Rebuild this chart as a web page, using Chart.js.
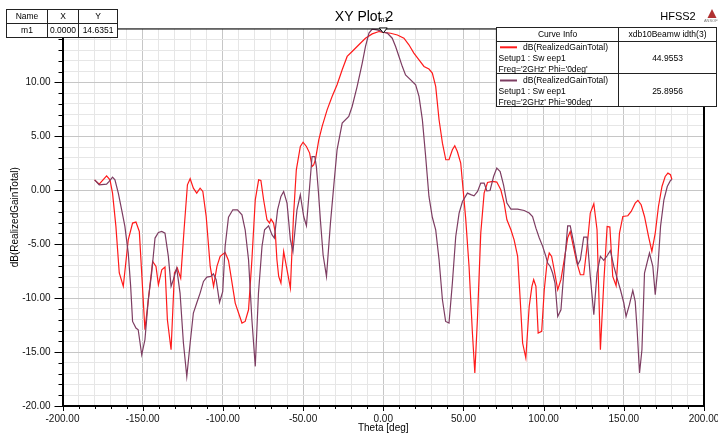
<!DOCTYPE html>
<html>
<head>
<meta charset="utf-8">
<script src="https://cdn.jsdelivr.net/npm/chart.js@4.4.1/dist/chart.umd.min.js"></script>
<style>
  html, body { margin: 0; padding: 0; background: #ffffff; }
  #wrap { width: 718px; height: 435px; position: relative; }
</style>
</head>
<body>
<div id="wrap"><canvas id="c" width="718" height="435"></canvas></div>
<script>
// ---- data ----
const thetaPhi0 = [-180,-177.1,-172.5,-170.4,-168.8,-166.7,-164.6,-162.1,-159.0,-156.3,-154.2,-152.1,-148.6,-146.5,-143.8,-141.7,-140.2,-138.1,-136.1,-134.6,-132.3,-130.2,-128.4,-126.3,-124.2,-122.1,-120.4,-118.4,-116.3,-114.2,-112.5,-110.4,-107.9,-105.8,-103.7,-101.7,-98.6,-96.5,-92.3,-88.1,-86.1,-84.0,-81.9,-79.8,-77.7,-76.3,-74.6,-72.5,-70.9,-70.0,-68.4,-67.3,-66.3,-65.2,-63.8,-62.1,-60.0,-57.9,-56.0,-54.2,-51.7,-50.0,-47.9,-45.9,-44.4,-43.4,-42.3,-40.2,-38.1,-35.0,-31.9,-28.8,-25.6,-22.5,-19.4,-15.2,-11.1,-6.9,-2.7,0,4.6,8.8,12.9,16.0,19.1,22.3,25.4,28.5,30.6,32.7,34.8,36.9,39.0,41.0,43.1,44.6,46.2,48.3,50.0,51.4,53.5,55.6,57.1,58.8,60.8,62.9,65.0,68.1,70.8,73.3,75.4,77.1,79.6,81.6,83.8,85.4,86.9,88.9,91.0,92.7,93.8,95.2,96.6,98.8,100.4,102.1,103.5,105.0,106.6,108.8,110.8,112.9,115.0,116.6,118.1,120.8,122.9,125.0,127.1,129.1,131.3,133.3,135.4,137.5,139.6,141.3,143.1,145.2,147.3,149.4,152.5,154.6,157.1,158.8,160.8,162.9,165.4,167.5,169.6,171.6,173.8,175.8,177.5,179.1,180];
const gainPhi0 = [0.97,0.57,1.34,0.97,-0.26,-3.35,-7.67,-8.9,-4.59,-3.04,-2.95,-3.82,-12.93,-10.15,-6.6,-7.06,-8.76,-7.37,-7.12,-12.0,-14.78,-7.67,-7.21,-8.14,-3.66,0.51,1.07,0.2,-0.26,0.2,-0.11,-2.43,-7.06,-8.91,-7.06,-6.13,-5.76,-6.5,-10.46,-12.31,-12.16,-11.08,-6.44,-0.88,0.97,0.91,-0.88,-2.73,-3.04,-2.67,-3.04,-3.97,-6.44,-7.99,-8.6,-5.67,-7.37,-9.07,-2.5,1.9,4.06,4.46,4.06,3.45,2.2,2.36,2.83,4.68,5.92,7.46,8.7,9.78,11.17,12.41,12.87,13.49,14.1,14.5,14.72,14.64,14.56,14.4,14.1,13.49,12.72,12.1,11.48,11.24,10.87,9.63,6.54,4.37,2.83,2.83,3.76,4.13,3.6,2.53,-0.26,-2.6,-7.06,-13.24,-16.94,-11.7,-3.97,-0.26,0.72,0.82,0.76,0.05,-1.19,-2.73,-3.66,-4.59,-6.13,-10.15,-14.16,-15.55,-10.77,-8.91,-8.29,-8.91,-13.24,-13.08,-9.22,-6.75,-5.82,-6.13,-7.37,-9.22,-8.29,-6.4,-4.4,-3.82,-4.9,-6.75,-7.83,-7.83,-5.2,-2.11,-1.25,-3.66,-14.78,-8.6,-3.35,-3.41,-7.99,-8.85,-3.97,-2.43,-2.36,-1.96,-1.19,-0.94,-1.34,-2.43,-4.28,-5.67,-3.97,-1.5,0.35,1.28,1.59,1.44,1.0];

const thetaPhi90 = [-180,-177.1,-172.5,-170.9,-168.8,-167.3,-165.2,-163.1,-161.1,-159.0,-157.5,-156.3,-154.2,-152.8,-150.6,-148.6,-146.5,-144.4,-142.3,-140.2,-138.1,-136.1,-134.0,-132.3,-130.9,-128.8,-126.7,-124.6,-122.5,-120.4,-118.4,-116.3,-114.2,-112.1,-110.0,-107.5,-105.9,-104.2,-102.1,-100.1,-98.6,-96.5,-93.8,-90.9,-88.1,-86.1,-84.0,-81.9,-79.8,-77.8,-75.6,-74.0,-71.5,-69.4,-67.9,-65.9,-63.8,-62.1,-60.0,-57.9,-56.3,-53.8,-51.7,-49.6,-47.9,-45.9,-44.4,-42.7,-41.7,-40.5,-39.2,-37.5,-35.4,-32.9,-30.8,-28.8,-25.6,-21.5,-19.4,-16.3,-13.1,-11.1,-8.9,-6.9,-3.8,-0.6,2.5,5.6,7.7,9.8,11.9,13.9,17.1,20.2,22.3,24.4,26.4,28.5,30.6,32.7,34.8,36.9,38.9,41.0,43.1,45.2,47.3,49.4,52.5,54.6,56.6,58.8,60.8,62.9,64.6,66.6,68.8,70.8,72.9,75.0,77.1,79.6,83.8,87.9,91.0,93.1,95.2,97.3,99.4,101.4,102.5,104.1,105.6,107.1,108.8,110.8,112.9,115.0,116.6,118.8,121.3,122.9,125.0,127.1,129.1,131.3,133.3,135.4,137.5,139.6,141.6,143.8,145.8,147.9,150.0,151.4,153.5,155.6,157.1,158.3,159.8,161.3,162.9,166.0,168.1,169.6,171.3,172.9,175.0,177.1,179.1,180];
const gainPhi90 = [0.97,0.51,0.57,0.82,1.22,0.97,-0.26,-1.81,-3.35,-5.82,-8.91,-12.16,-12.77,-12.93,-15.25,-13.86,-10.15,-7.67,-4.43,-3.91,-3.82,-3.97,-6.13,-8.91,-8.29,-7.21,-9.53,-14.16,-17.26,-14.16,-11.38,-10.45,-9.53,-8.45,-8.05,-7.99,-7.74,-8.29,-10.4,-9.4,-5.2,-2.5,-1.81,-1.81,-2.27,-3.66,-6.44,-12.0,-16.33,-9.53,-5.2,-3.66,-3.29,-4.12,-4.43,-1.81,-0.57,-0.11,-1.19,-4.59,-5.67,-1.81,-0.42,-2.43,-3.29,0.35,3.13,3.13,2.2,0.0,-2.73,-6.0,-7.99,-3.0,0.5,3.75,6.23,6.84,7.77,9.62,11.79,13.33,14.57,14.94,14.87,14.72,14.57,14.1,13.33,12.4,11.47,10.7,10.24,9.78,8.7,6.53,3.2,-0.57,-2.5,-3.66,-6.44,-10.15,-12.16,-12.31,-8.6,-4.28,-2.11,-1.04,-0.26,-0.4,-0.51,-0.11,0.67,0.67,-0.05,-0.02,1.28,2.06,1.74,0.51,-1.19,-1.74,-1.74,-1.87,-2.11,-2.43,-3.51,-4.43,-5.2,-6.13,-6.75,-7.06,-7.67,-8.6,-11.7,-11.08,-7.0,-3.3,-3.29,-4.9,-6.9,-6.44,-4.34,-4.34,-7.99,-11.54,-7.67,-6.13,-6.5,-6.07,-5.58,-7.06,-8.14,-9.22,-10.45,-11.7,-10.61,-9.28,-10.3,-12.93,-16.94,-14.78,-7.67,-5.82,-7.06,-9.68,-7.06,-3.35,-0.88,0.35,0.91,1.0];

const seriesNames = ["dB(RealizedGainTotal)", "dB(RealizedGainTotal)"];
const seriesSetup = ["Setup1 : Sw eep1", "Setup1 : Sw eep1"];
const seriesFreq = ["Freq='2GHz' Phi='0deg'", "Freq='2GHz' Phi='90deg'"];
const beamwidths = ["44.9553", "25.8956"];
const markerName = ["m1"];
const markerX = [0.0];
const markerY = [14.6351];
const xTickLabelsStep = 50;
const yTickLabelsStep = 5;

const RED = '#ff1a1a';
const PURPLE = '#7d3d62';
const FONT = '"Liberation Sans", Arial, sans-serif';

function toXY(xs, ys) { return xs.map((x, i) => ({ x: x, y: ys[i] })); }

const annot = {
  id: 'annot',
  beforeDraw(chart) {
    const c = chart.ctx;
    c.save();
    c.fillStyle = '#ffffff';
    c.fillRect(0, 0, chart.width, chart.height);
    c.restore();
  },
  afterDraw(chart) {
    const c = chart.ctx;
    const xs = chart.scales.x, ys = chart.scales.y;
    const a = chart.chartArea;
    c.save();
    // frame: top thin, right thick
    c.strokeStyle = '#000';
    c.lineWidth = 1;
    c.beginPath(); c.moveTo(a.left, a.top + 0.5); c.lineTo(a.right, a.top + 0.5); c.stroke();
    c.lineWidth = 2;
    c.beginPath(); c.moveTo(a.right, a.top); c.lineTo(a.right, a.bottom + 1); c.stroke();
    // tick marks
    c.lineWidth = 1;
    for (let v = -200; v <= 200; v += 10) {
      const px = Math.round(xs.getPixelForValue(v)) + 0.5;
      const len = (v % 50 === 0) ? 5 : 3;
      c.beginPath(); c.moveTo(px, a.bottom); c.lineTo(px, a.bottom + len); c.stroke();
    }
    for (let v = -20; v <= 15; v += 1) {
      const py = Math.round(ys.getPixelForValue(v)) + 0.5;
      const len = (v % 5 === 0) ? 8 : 4;
      c.beginPath(); c.moveTo(a.left - len, py); c.lineTo(a.left, py); c.stroke();
    }
    // axis titles
    c.fillStyle = '#000';
    c.font = '10px ' + FONT;
    c.textAlign = 'center'; c.textBaseline = 'middle';
    c.fillText('Theta [deg]', (a.left + a.right) / 2, 428);
    c.save();
    c.translate(15, (a.top + a.bottom) / 2);
    c.rotate(-Math.PI / 2);
    c.fillText('dB(RealizedGainTotal)', 0, 0);
    c.restore();

    // title
    c.font = '14px ' + FONT;
    c.fillText('XY Plot 2', 364, 17);
    // HFSS2
    c.font = '11px ' + FONT;
    c.fillText('HFSS2', 678, 17);
    // small logo
    c.fillStyle = '#b03030';
    c.beginPath(); c.moveTo(712, 9); c.lineTo(707.5, 18); c.lineTo(716.5, 18); c.closePath(); c.fill();
    c.fillStyle = '#777';
    c.font = '4px ' + FONT;
    c.fillText('ANSOFT', 712, 21);

    // marker
    const mx = xs.getPixelForValue(markerX[0]);
    const my = ys.getPixelForValue(markerY[0]);
    c.fillStyle = '#ffffff';
    c.strokeStyle = '#000';
    c.lineWidth = 1;
    c.beginPath(); c.moveTo(mx - 4, my - 4.5); c.lineTo(mx + 4, my - 4.5); c.lineTo(mx, my + 0.5); c.closePath(); c.fill(); c.stroke();
    c.fillStyle = '#000';
    c.font = '7px ' + FONT;
    c.fillText(markerName[0], mx, my - 12);

    // marker table
    c.font = '8.5px ' + FONT;
    c.fillStyle = '#fff';
    c.fillRect(6, 9, 111, 28.5);
    c.strokeStyle = '#222';
    c.lineWidth = 1;
    c.strokeRect(6.5, 9.5, 111, 28);
    c.beginPath();
    c.moveTo(6.5, 23.5); c.lineTo(117.5, 23.5);
    c.moveTo(47.5, 9.5); c.lineTo(47.5, 37.5);
    c.moveTo(78.5, 9.5); c.lineTo(78.5, 37.5);
    c.stroke();
    c.fillStyle = '#000';
    c.fillText('Name', 27, 16.5);
    c.fillText('X', 63, 16.5);
    c.fillText('Y', 98, 16.5);
    c.fillText(markerName[0], 27, 30.5);
    c.fillText(markerX[0].toFixed(4), 63, 30.5);
    c.fillText(markerY[0].toFixed(4), 98, 30.5);

    // legend table
    const L = 496.5, T = 27.5, R = 716.5, B = 106.5, C = 618.5;
    c.fillStyle = '#fff';
    c.fillRect(L, T, R - L, B - T);
    c.strokeStyle = '#222';
    c.strokeRect(L, T, R - L, B - T);
    c.beginPath();
    c.moveTo(L, 41.5); c.lineTo(R, 41.5);
    c.moveTo(L, 73.5); c.lineTo(R, 73.5);
    c.moveTo(C, T); c.lineTo(C, B);
    c.stroke();
    c.fillStyle = '#000';
    c.textAlign = 'center';
    c.fillText('Curve Info', (L + C) / 2, 35);
    c.fillText('xdb10Beamw idth(3)', (C + R) / 2, 35);
    const rowsY = [47.3, 80.5];
    const cols = [RED, PURPLE];
    for (let i = 0; i < 2; i++) {
      const y0 = rowsY[i];
      c.strokeStyle = cols[i];
      c.lineWidth = 2;
      c.beginPath(); c.moveTo(500, y0); c.lineTo(517, y0); c.stroke();
      c.fillStyle = '#000';
      c.textAlign = 'left';
      c.fillText(seriesNames[i], 523, y0);
      c.fillText(seriesSetup[i], 498.5, y0 + 11.5);
      c.fillText(seriesFreq[i], 498.5, y0 + 22);
      c.textAlign = 'center';
      c.fillText(beamwidths[i], (C + R) / 2, y0 + 11);
    }
    c.restore();
  }
};

new Chart(document.getElementById('c'), {
  type: 'line',
  data: {
    datasets: [
      { label: seriesFreq[0], data: toXY(thetaPhi0, gainPhi0), borderColor: RED, borderWidth: 1.2, pointRadius: 0, tension: 0, fill: false, order: 1 },
      { label: seriesFreq[1], data: toXY(thetaPhi90, gainPhi90), borderColor: PURPLE, borderWidth: 1.2, pointRadius: 0, tension: 0, fill: false, order: 0 }
    ]
  },
  options: {
    responsive: false,
    animation: false,
    events: [],
    layout: { padding: { top: 28.5, right: 14, left: 0, bottom: 0 } },
    plugins: { legend: { display: false }, tooltip: { enabled: false }, title: { display: false } },
    scales: {
      x: {
        type: 'linear', min: -200, max: 200,
        border: { display: true, color: '#000', width: 2 },
        grid: {
          color: (ctx) => (ctx.tick && ctx.tick.value % xTickLabelsStep === 0) ? '#c6c6c6' : '#e6e6e6',
          lineWidth: 1, drawTicks: true, tickLength: 5, tickColor: 'rgba(0,0,0,0)'
        },
        ticks: {
          stepSize: 10, autoSkip: false, maxRotation: 0, minRotation: 0, padding: 2,
          color: '#111', font: { family: FONT, size: 10 },
          callback: (v) => (v % xTickLabelsStep === 0) ? Number(v).toFixed(2) : ''
        },
        afterFit: (s) => { s.height = 29; s.paddingLeft = 0; s.paddingRight = 0; }
      },
      y: {
        type: 'linear', min: -20, max: 15,
        border: { display: true, color: '#000', width: 2 },
        grid: {
          color: (ctx) => (ctx.tick && ctx.tick.value % yTickLabelsStep === 0) ? '#c6c6c6' : '#e6e6e6',
          lineWidth: 1, drawTicks: true, tickLength: 8, tickColor: 'rgba(0,0,0,0)'
        },
        ticks: {
          stepSize: 1, autoSkip: false, padding: 4,
          color: '#111', font: { family: FONT, size: 10 },
          callback: (v) => (v % yTickLabelsStep === 0 && v !== 15) ? Number(v).toFixed(2) : ''
        },
        afterFit: (s) => { s.width = 62.5; s.paddingTop = 0; s.paddingBottom = 0; }
      }
    }
  },
  plugins: [annot]
});
</script>
</body>
</html>
